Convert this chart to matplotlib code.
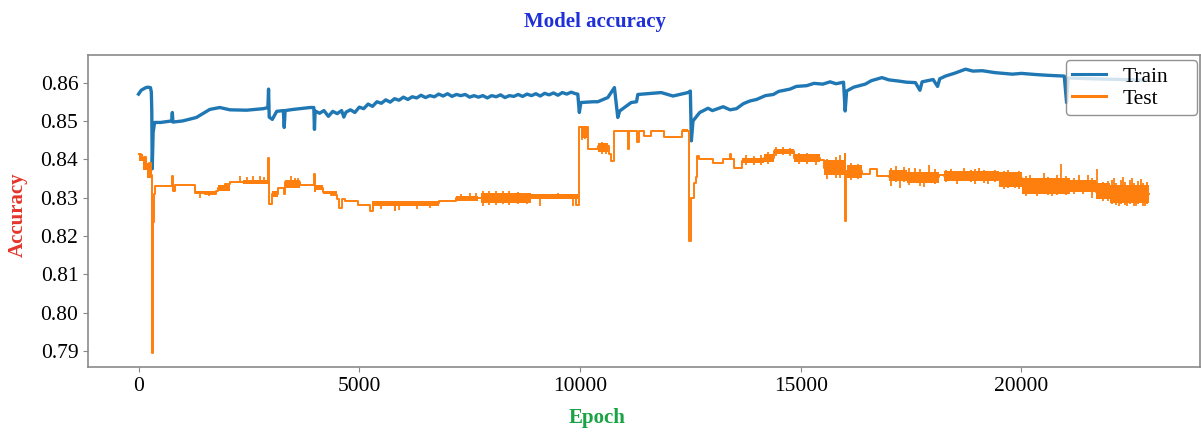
import matplotlib.pyplot as plt

plt.rcParams['font.family'] = ['Liberation Serif', 'DejaVu Serif']

# training accuracy at the turning points of the curve
train_epochs = [0, 60, 150, 200, 270, 290, 300, 310, 330, 364, 500, 700, 750, 765, 780,
                1000, 1310, 1614, 1840, 2070, 2450, 2830, 2930, 2945, 2960, 3030, 3130,
                3280, 3300, 3320, 3500, 3890, 3970, 3985,
                4000, 4100, 4200, 4300, 4400, 4500, 4600, 4650, 4700, 4800, 4900,
                5000, 5100, 5200, 5300, 5400, 5500, 5600, 5700, 5800, 5900,
                6000, 6100, 6200, 6300, 6400, 6500, 6600, 6700, 6800, 6900,
                7000, 7100, 7200, 7300, 7400, 7500, 7600, 7700, 7800, 7900,
                8000, 8100, 8200, 8300, 8400, 8500, 8600, 8700, 8800, 8900,
                9000, 9100, 9200, 9300, 9400, 9500, 9600, 9700, 9800, 9900,
                9950, 9985, 10020, 10300, 10402, 10630, 10780, 10856, 10900, 11160,
                11280, 11310, 11840, 12107, 12447, 12500, 12523, 12560,
                12712, 12900, 13000, 13243, 13400, 13545, 13700, 13848, 14000, 14200,
                14380, 14500, 14757, 14900, 15136, 15300, 15500, 15666, 15800, 15970,
                16007, 16040, 16200, 16462, 16600, 16840, 17000, 17220, 17400, 17598,
                17700, 17750, 18000, 18100, 18150, 18280, 18500, 18734, 18900, 19113,
                19400, 19795, 20000, 20325, 20600, 20970, 21023, 21060, 21600, 22300,
                22800]
train_acc = [0.8570, 0.8580, 0.8586, 0.8588, 0.8587, 0.8575, 0.8525, 0.8375, 0.8470,
             0.8496, 0.8496, 0.8499, 0.8500, 0.8522, 0.8497, 0.8500, 0.8509, 0.8530,
             0.8535, 0.8529, 0.8528, 0.8532, 0.8535, 0.8583, 0.8510, 0.8504, 0.8525,
             0.8527, 0.8483, 0.8527, 0.8530, 0.8535, 0.8535, 0.8478,
             0.8526, 0.8520, 0.8527, 0.8512, 0.8525, 0.8519, 0.8527, 0.8510, 0.8523, 0.8529, 0.8522,
             0.8536, 0.8532, 0.8544, 0.8538, 0.8550, 0.8546, 0.8555, 0.8549, 0.8558, 0.8554,
             0.8562, 0.8556, 0.8563, 0.8560, 0.8567, 0.8561, 0.8566, 0.8563, 0.8570, 0.8565,
             0.8571, 0.8564, 0.8569, 0.8566, 0.8569, 0.8562, 0.8566, 0.8562, 0.8566, 0.8560,
             0.8566, 0.8563, 0.8568, 0.8561, 0.8566, 0.8564, 0.8569, 0.8564, 0.8570, 0.8566,
             0.8571, 0.8565, 0.8572, 0.8568, 0.8573, 0.8567, 0.8574, 0.8570, 0.8575, 0.8571,
             0.8570, 0.8522, 0.8548, 0.8550, 0.8550, 0.8561, 0.8587, 0.8509, 0.8526, 0.8548,
             0.8550, 0.8569, 0.8574, 0.8565, 0.8574, 0.8578, 0.8448, 0.8500,
             0.8522, 0.8533, 0.8527, 0.8537, 0.8529, 0.8532, 0.8545, 0.8552, 0.8556, 0.8566,
             0.8569, 0.8577, 0.8583, 0.8590, 0.8592, 0.8598, 0.8596, 0.8602, 0.8597, 0.8601,
             0.8526, 0.8578, 0.8588, 0.8596, 0.8605, 0.8613, 0.8607, 0.8604, 0.8601, 0.8600,
             0.8580, 0.8602, 0.8608, 0.8590, 0.8610, 0.8617, 0.8625, 0.8635, 0.8630, 0.8631,
             0.8626, 0.8622, 0.8624, 0.8621, 0.8619, 0.8617, 0.8548, 0.8612, 0.8610, 0.8608,
             0.8606]

# test accuracy, held between evaluations
test_epochs = [0, 60, 120, 180, 240, 280, 300, 310, 320, 340, 364, 765, 790, 820, 1270,
               1500, 1765, 1800, 1950, 2070, 2940, 2960, 3015,
               3160, 3300, 3320, 3660, 3985, 3995, 4000, 4180, 4350, 4500,
               4550, 4600, 4680, 4980, 5250, 5300, 5800, 5820, 6800, 7180, 7700, 8890,
               9900, 9985, 10180, 10410, 10660, 10700, 10780, 11080, 11110, 11300,
               11330, 11450, 11600, 11900, 12300, 12480, 12520, 12590, 12620, 12640,
               12700, 13020, 13250, 13400, 13420, 13480, 13660, 14160, 14390, 14840,
               15430, 15520, 16000, 16007, 16030, 16390, 16560, 16730, 17000, 18140,
               18250, 19500, 20020, 21090, 21700, 22000, 22900]
test_acc = [0.8413, 0.8398, 0.8405, 0.8380, 0.8390, 0.8360, 0.8352, 0.7895, 0.8236,
            0.8309, 0.8330, 0.8356, 0.8318, 0.8334, 0.8313, 0.8309, 0.8317, 0.8326,
            0.8335, 0.8340, 0.8402, 0.8283, 0.8310,
            0.8326, 0.8310, 0.8340, 0.8332, 0.8361, 0.8317, 0.8325, 0.8315, 0.8308,
            0.8296, 0.8274, 0.8296, 0.8292, 0.8280, 0.8266, 0.8285, 0.8268, 0.8285,
            0.8292, 0.8299, 0.8300, 0.8302, 0.8280, 0.8483, 0.8426, 0.8435, 0.8413,
            0.8396, 0.8474, 0.8426, 0.8474, 0.8445, 0.8474, 0.8461, 0.8474, 0.8457,
            0.8474, 0.8187, 0.8300, 0.8339, 0.8355, 0.8409, 0.8400, 0.8391, 0.8400,
            0.8413, 0.8400, 0.8378, 0.8396, 0.8404, 0.8422, 0.8404, 0.8398, 0.8376,
            0.8413, 0.8239, 0.8370, 0.8361, 0.8374, 0.8356, 0.8355, 0.8360, 0.8356,
            0.8350, 0.8330, 0.8330, 0.8315, 0.8310, 0.8310]

# stretches where the test accuracy flickers between two levels
band_start = [0, 100, 200, 1270, 1800, 2370, 3015, 3320, 4000, 4180, 5320, 7180, 7750,
              8890, 10020, 10410, 12300, 13660, 14160, 14390, 14840, 15520, 16050,
              17000, 17400, 18250, 19500, 20020, 21090, 21700, 22000]
band_end = [100, 200, 300, 1765, 2070, 2940, 3160, 3660, 4180, 4500, 6800, 7700, 8890,
            9950, 10180, 10640, 12450, 14160, 14390, 14840, 15430, 16000, 16390, 17400,
            18140, 19500, 20020, 21090, 21700, 22000, 22900]
band_low = [0.8395, 0.8372, 0.8350, 0.8309, 0.8317, 0.8335, 0.8302, 0.8325, 0.8319,
            0.8310, 0.8279, 0.8292, 0.8287, 0.8296, 0.8456, 0.8419, 0.8470, 0.8389,
            0.8393, 0.8414, 0.8393, 0.8358, 0.8350, 0.8343, 0.8338, 0.8342, 0.8328,
            0.8310, 0.8315, 0.8297, 0.8287]
band_high = [0.8413, 0.8405, 0.8390, 0.8317, 0.8334, 0.8345, 0.8317, 0.8345, 0.8332,
             0.8317, 0.8292, 0.8305, 0.8313, 0.8309, 0.8483, 0.8443, 0.8478, 0.8403,
             0.8413, 0.8428, 0.8413, 0.8397, 0.8385, 0.8372, 0.8368, 0.8370, 0.8367,
             0.8350, 0.8347, 0.8337, 0.8332]

# single evaluations that jump out of the band
spike_epochs = [1400, 1600, 2300, 2450, 2600, 2750, 2850, 3450, 3550, 3620,
                5300, 5500, 5900, 6300, 6600, 7300, 7500, 7650,
                7800, 7950, 8100, 8250, 8400, 8600, 8800, 9100, 9500, 9850,
                10050, 10120, 10500, 10600, 13750, 13950, 14100,
                14250, 14450, 14600, 14750, 14950, 15150, 15350,
                15600, 15800, 15900, 16150, 16300,
                17050, 17150, 17250, 17350, 17450, 17600, 17700, 17800, 17900, 18050,
                18300, 18400, 18550, 18700, 18850, 18950, 19050, 19150, 19250, 19400,
                19600, 19700, 19850, 19950, 20100, 20200, 20350, 20500, 20600, 20700,
                20800, 20900, 21000, 21200, 21300, 21400, 21500, 21600, 21720, 21850,
                21950, 22050, 22100, 22150, 22200, 22250, 22300, 22350, 22400, 22450,
                22500, 22550, 22600, 22650, 22700, 22750, 22800, 22850]
spike_lo = [0.8300, 0.8303, 0.8340, 0.8340, 0.8342, 0.8338, 0.8340, 0.8338, 0.8330, 0.8325,
            0.8266, 0.8270, 0.8268, 0.8270, 0.8272, 0.8292, 0.8292, 0.8290,
            0.8278, 0.8280, 0.8280, 0.8282, 0.8280, 0.8282, 0.8282, 0.8278, 0.8296, 0.8278,
            0.8450, 0.8452, 0.8415, 0.8415, 0.8385, 0.8385, 0.8386,
            0.8388, 0.8408, 0.8410, 0.8408, 0.8388, 0.8388, 0.8385,
            0.8348, 0.8350, 0.8352, 0.8346, 0.8348,
            0.8330, 0.8340, 0.8326, 0.8340, 0.8332, 0.8340, 0.8330, 0.8328, 0.8340, 0.8335,
            0.8340, 0.8345, 0.8335, 0.8345, 0.8340, 0.8336, 0.8345, 0.8338, 0.8336, 0.8340,
            0.8322, 0.8326, 0.8325, 0.8322, 0.8305, 0.8310, 0.8304, 0.8310, 0.8306, 0.8304,
            0.8306, 0.8320, 0.8306, 0.8310, 0.8315, 0.8310, 0.8315, 0.8300, 0.8300, 0.8291,
            0.8291, 0.8282, 0.8285, 0.8280, 0.8278, 0.8282, 0.8285, 0.8280, 0.8278, 0.8282,
            0.8285, 0.8279, 0.8278, 0.8282, 0.8285, 0.8279, 0.8278, 0.8282]
spike_hi = [0.8317, 0.8317, 0.8356, 0.8354, 0.8356, 0.8357, 0.8355, 0.8357, 0.8352, 0.8350,
            0.8290, 0.8288, 0.8290, 0.8290, 0.8290, 0.8310, 0.8313, 0.8313,
            0.8318, 0.8318, 0.8318, 0.8318, 0.8318, 0.8315, 0.8313, 0.8305, 0.8313, 0.8305,
            0.8487, 0.8485, 0.8445, 0.8440, 0.8410, 0.8408, 0.8410,
            0.8420, 0.8432, 0.8432, 0.8430, 0.8417, 0.8417, 0.8413,
            0.8400, 0.8405, 0.8410, 0.8390, 0.8387,
            0.8378, 0.8383, 0.8360, 0.8380, 0.8376, 0.8378, 0.8374, 0.8360, 0.8385, 0.8375,
            0.8372, 0.8374, 0.8360, 0.8378, 0.8372, 0.8375, 0.8376, 0.8373, 0.8365, 0.8372,
            0.8370, 0.8372, 0.8368, 0.8370, 0.8356, 0.8360, 0.8345, 0.8365, 0.8355, 0.8348,
            0.8358, 0.8387, 0.8356, 0.8352, 0.8360, 0.8345, 0.8358, 0.8350, 0.8374, 0.8340,
            0.8342, 0.8345, 0.8350, 0.8338, 0.8330, 0.8346, 0.8355, 0.8340, 0.8330, 0.8347,
            0.8352, 0.8338, 0.8330, 0.8344, 0.8348, 0.8338, 0.8330, 0.8340]

x_ticks = [0, 5000, 10000, 15000, 20000]
y_ticks = [0.79, 0.80, 0.81, 0.82, 0.83, 0.84, 0.85, 0.86]

blue = '#1f77b4'
orange = '#ff7f0e'

fig = plt.figure(figsize=(12.01, 4.33), dpi=100)
ax = fig.add_axes([88 / 1201, 1 - 367 / 433, 1112 / 1201, 312 / 433])

ax.plot(train_epochs, train_acc, color=blue, lw=2.4, label='Train')
ax.plot(test_epochs, test_acc, color=orange, lw=1.4, drawstyle='steps-post', label='Test')
for s, e, lo, hi in zip(band_start, band_end, band_low, band_high):
    ax.fill_between([s, e], lo, hi, color=orange, lw=0)
ax.vlines(spike_epochs, spike_lo, spike_hi, color=orange, lw=1.3)

ax.set_xticks(x_ticks)
ax.set_yticks(y_ticks)
ax.set_yticklabels([f'{v:.2f}' for v in y_ticks])
ax.tick_params(labelsize=15.5, color='#888888')
for sp in ax.spines.values():
    sp.set_color('#8a8a8a')
    sp.set_linewidth(1.2)

leg = ax.legend(loc='upper left', mode='expand', fontsize=15.5,
                bbox_to_anchor=(0.8795, 0.5, 0.1178, 0.484), borderaxespad=0,
                handlelength=1.55, labelspacing=0.1, borderpad=0.3,
                framealpha=0.8, edgecolor='#777777')
for line in leg.get_lines():
    line.set_linewidth(2.2)

fig.text(595 / 1201, 1 - 22 / 433, 'Model accuracy', ha='center', va='center',
         fontsize=15, fontweight='bold', color='#1f30d8')
fig.text(597 / 1201, 1 - 418 / 433, 'Epoch', ha='center', va='center',
         fontsize=15, fontweight='bold', color='#1aa344')
fig.text(18 / 1201, 1 - 215 / 433, 'Accuracy', ha='center', va='center', rotation=90,
         fontsize=15, fontweight='bold', color='#e5352a')

fig.savefig('out.png', dpi=100)
